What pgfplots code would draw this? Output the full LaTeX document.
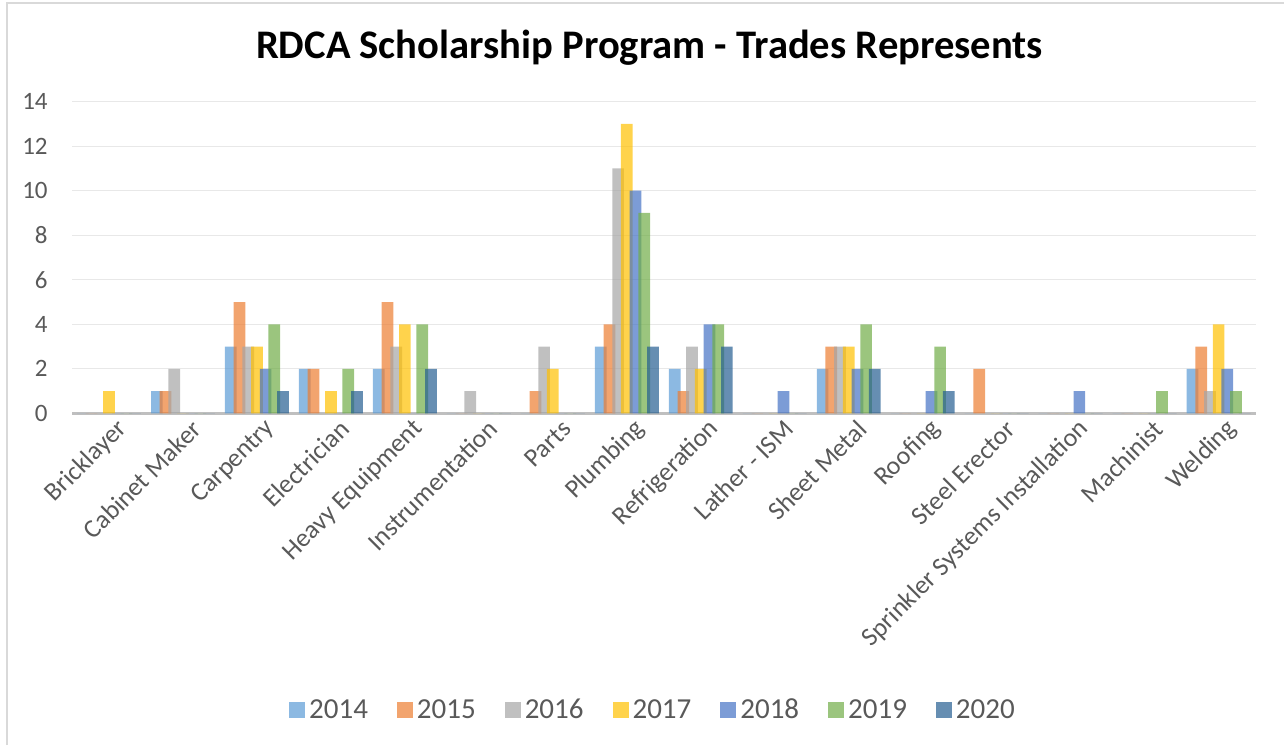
\documentclass[border=0pt]{standalone}
\usepackage{pgfplots}
\pgfplotsset{compat=1.18}
\usepackage{pgfplotstable}
\usepackage{fontspec}
\setmainfont{Carlito}
\definecolor{c14}{HTML}{5B9BD5}
\definecolor{c15}{HTML}{ED7D31}
\definecolor{c16}{HTML}{A5A5A5}
\definecolor{c17}{HTML}{FFC000}
\definecolor{c18}{HTML}{4472C4}
\definecolor{c19}{HTML}{70AD47}
\definecolor{c20}{HTML}{255E91}
\definecolor{txt}{HTML}{595959}
\definecolor{frame}{HTML}{D9D9D9}
\definecolor{gridc}{HTML}{E8E8E8}
\definecolor{axc}{HTML}{BFBFBF}

\pgfplotstableread{
x a b c d e f g
0 0 0 0 1 0 0 0
1 1 1 2 0 0 0 0
2 3 5 3 3 2 4 1
3 2 2 0 1 0 2 1
4 2 5 3 4 0 4 2
5 0 0 1 0 0 0 0
6 0 1 3 2 0 0 0
7 3 4 11 13 10 9 3
8 2 1 3 2 4 4 3
9 0 0 0 0 1 0 0
10 2 3 3 3 2 4 2
11 0 0 0 0 1 3 1
12 0 2 0 0 0 0 0
13 0 0 0 0 1 0 0
14 0 0 0 0 0 1 0
15 2 3 1 4 2 1 0
}\data

\begin{document}
\begin{tikzpicture}
\useasboundingbox (0,0) rectangle (642pt,372.5pt);
\draw[frame, line width=1pt] (3.5pt,0) -- (3.5pt,371pt) -- (642pt,371pt);
\node[anchor=base, font=\fontsize{20.3}{24}\selectfont\bfseries] at (324.75pt,343pt) {RDCA Scholarship Program - Trades Represents};
\begin{axis}[
  at={(36pt,165.85pt)}, anchor=south west,
  scale only axis, width=591.8pt, height=155.8pt,
  xmin=-0.5, xmax=15.5, ymin=0, ymax=14,
  ybar=-1.5pt, bar width=5.85pt,
  xtick={0,...,15},
  xticklabels={Bricklayer,Cabinet Maker,Carpentry,Electrician,Heavy Equipment,Instrumentation,Parts,Plumbing,Refrigeration,Lather - ISM,Sheet Metal,Roofing,Steel Erector,Sprinkler Systems Installation,Machinist,Welding},
  ytick={0,2,...,14},
  major tick length=0pt,
  axis x line=bottom, axis y line=left,
  axis line style={-},
  x axis line style={draw=axc, line width=1.3pt},
  y axis line style={draw=none},
  ymajorgrids, grid style={draw=gridc, line width=0.7pt},
  /pgf/number format/assume math mode=true,
  tick label style={text=txt},
  yticklabel style={font=\fontsize{12.5}{14}\selectfont, anchor=east, inner sep=0pt, xshift=-12pt},
  xticklabel style={font=\fontsize{13}{15}\selectfont, rotate=45, anchor=east, inner sep=0pt, xshift=1pt, yshift=-9pt},
  legend columns=7,
  legend style={at={(0.4917,-0.9525)}, anchor=center, draw=none, fill=none,
    font=\fontsize{14.5}{17}\selectfont, text=txt,
    /tikz/every even column/.append style={column sep=12.5pt}},
  legend image code/.code={\fill[#1] (0pt,-4pt) rectangle (8pt,4pt);},
  every axis plot/.append style={draw=none, fill opacity=0.7},
]
\addplot[fill=c14] table[x=x,y=a]{\data};
\addplot[fill=c15] table[x=x,y=b]{\data};
\addplot[fill=c16] table[x=x,y=c]{\data};
\addplot[fill=c17] table[x=x,y=d]{\data};
\addplot[fill=c18] table[x=x,y=e]{\data};
\addplot[fill=c19] table[x=x,y=f]{\data};
\addplot[fill=c20] table[x=x,y=g]{\data};
\legend{2014,2015,2016,2017,2018,2019,2020}
\end{axis}
\end{tikzpicture}
\end{document}
